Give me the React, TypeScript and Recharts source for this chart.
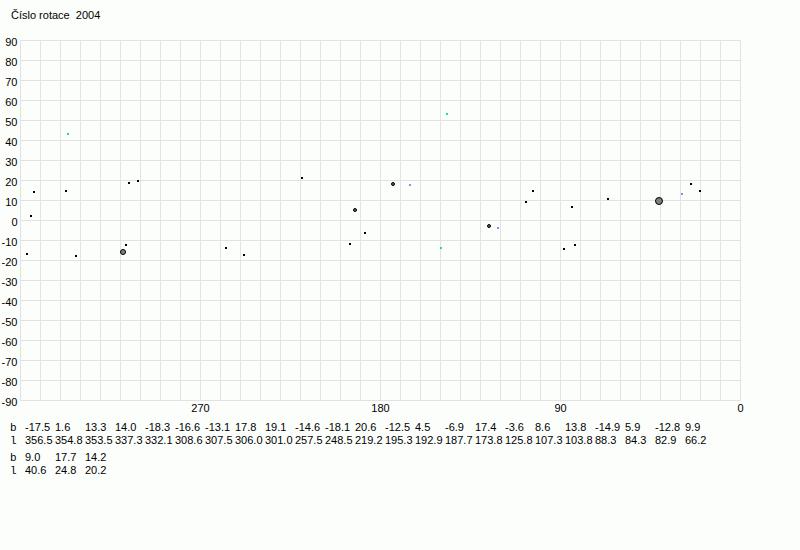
import React from "react";
import { ScatterChart, Scatter, XAxis, YAxis, CartesianGrid } from "recharts";

// sunspot groups listed in the table under the chart
const lValues = [356.5, 354.8, 353.5, 337.3, 332.1, 308.6, 307.5, 306.0, 301.0, 257.5, 248.5, 219.2, 195.3, 192.9, 187.7, 173.8, 125.8, 107.3, 103.8, 88.3, 84.3, 82.9, 66.2, 40.6, 24.8, 20.2];
const bValues = [-17.5, 1.6, 13.3, 14.0, -18.3, -16.6, -13.1, 17.8, 19.1, -14.6, -18.1, 20.6, -12.5, 4.5, -6.9, 17.4, -3.6, 8.6, 13.8, -14.9, 5.9, -12.8, 9.9, 9.0, 17.7, 14.2];
// 0 = dot, 1 = small spot, 2 = medium spot, 3 = large spot
const spotClass = [0, 0, 0, 0, 0, 2, 0, 0, 0, 0, 0, 0, 0, 1, 0, 1, 1, 0, 0, 0, 0, 0, 0, 3, 0, 0];

// extra markers not in the table
const tealL = [336.2, 149.5, 147.0];
const tealB = [42.5, -14.5, 52.5];
const blueL = [165.5, 121.5, 29.0];
const blueB = [17.0, -4.5, 12.5];

const xLabels = [270, 180, 90, 0];
const yTicks = [-90, -80, -70, -60, -50, -40, -30, -20, -10, 0, 10, 20, 30, 40, 50, 60, 70, 80, 90];
const xGrid = Array.from({ length: 37 }, (_, i) => i * 10);

const title = "Číslo rotace  2004";
const perRow = 23;

const font = "'Liberation Sans', Arial, sans-serif";

const spots = lValues.map((l, i) => ({ l, b: bValues[i], kind: spotClass[i] }));
const teal = tealL.map((l, i) => ({ l, b: tealB[i] }));
const blue = blueL.map((l, i) => ({ l, b: blueB[i] }));

const SpotShape = (props: any) => {
  const kind = props.payload.kind;
  if (kind === 0)
    return <rect x={Math.round(props.cx) - 1} y={Math.floor(props.cy) - 2} width={2} height={2} fill="#000" />;
  const r = kind === 1 ? 1.5 : kind === 2 ? 2.5 : 3.5;
  return (
    <circle
      cx={Math.round(props.cx)}
      cy={Math.floor(props.cy) - 1}
      r={r}
      fill={kind === 1 ? "#606060" : "#808080"}
      stroke="#000"
      strokeWidth={1}
    />
  );
};

const dot = (color: string) => (props: any) => (
  <rect x={Math.round(props.cx) - 1} y={Math.floor(props.cy) - 2} width={2} height={2} fill={color} />
);

const YTick = (props: any) => (
  <text x={props.x - 1} y={props.y + 2} dy="0.355em" textAnchor="end" fontFamily={font} fontSize={11} fill="#000">
    {props.payload.value}
  </text>
);

export default function App() {
  const rows: number[][] = [];
  for (let i = 0; i < lValues.length; i += perRow) rows.push(lValues.map((_, k) => k).slice(i, i + perRow));

  return (
    <div style={{ position: "absolute", left: 0, top: 0, width: 800, height: 550, background: "#fcfefc", fontFamily: font }}>
      <div style={{ position: "absolute", left: 11, top: 9, fontSize: 11, whiteSpace: "pre", color: "#000" }}>{title}</div>
      <ScatterChart width={800} height={550} margin={{ top: 40.5, right: 59.5, bottom: 129.5, left: 0.5 }}>
        <CartesianGrid stroke="#e2e2e2" strokeWidth={1} />
        <XAxis
          dataKey="l"
          type="number"
          domain={[0, 360]}
          reversed
          ticks={xGrid}
          interval={0}
          tickFormatter={(v: number) => (xLabels.includes(v) ? String(v) : "")}
          tickLine={false}
          axisLine={false}
          tickSize={0}
          tickMargin={4}
          height={20}
          tick={{ fontFamily: font, fontSize: 11, fill: "#000" }}
        />
        <YAxis
          dataKey="b"
          type="number"
          domain={[-90, 90]}
          ticks={yTicks}
          interval={0}
          tickLine={false}
          axisLine={false}
          tickSize={0}
          tickMargin={2}
          width={20}
          tick={<YTick />}
        />
        <Scatter data={spots} shape={SpotShape} isAnimationActive={false} />
        <Scatter data={teal} shape={dot("#20d8a0")} isAnimationActive={false} />
        <Scatter data={blue} shape={dot("#8c8cf4")} isAnimationActive={false} />
      </ScatterChart>
      <svg width={800} height={120} style={{ position: "absolute", left: 0, top: 415 }}>
        {rows.map((row, r) => (
          <g key={r} transform={`translate(0, ${r * 30})`}>
            <text x={10} y={16} fontFamily="'Liberation Mono', monospace" fontSize={11} fill="#000">b</text>
            <text x={10} y={28.5} fontFamily="'Liberation Mono', monospace" fontSize={11} fill="#000">l</text>
            {row.map((k, c) => (
              <g key={k}>
                <text x={25 + c * 30} y={16} fontFamily={font} fontSize={11} fill="#000">{bValues[k].toFixed(1)}</text>
                <text x={25 + c * 30} y={28.5} fontFamily={font} fontSize={11} fill="#000">{lValues[k].toFixed(1)}</text>
              </g>
            ))}
          </g>
        ))}
      </svg>
    </div>
  );
}
